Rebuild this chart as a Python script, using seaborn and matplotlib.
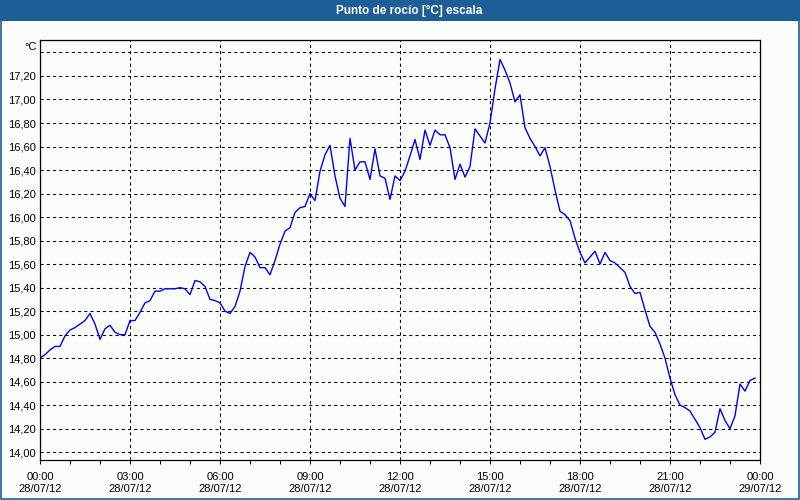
import numpy as np
import pandas as pd
import matplotlib
matplotlib.use("Agg")
import matplotlib.pyplot as plt
import matplotlib.dates as mdates
from matplotlib.patches import Rectangle
from matplotlib.ticker import FixedLocator, FixedFormatter
import seaborn as sns

# ---------------- data ----------------
title = "Punto de rocío [°C] escala"
unit_label = "°C"
start_time = "2012-07-28 00:00"
end_time = "2012-07-29 00:00"
dew_point = [
    14.80, 14.83, 14.87, 14.90, 14.90, 14.99, 15.04, 15.06, 15.09, 15.12,
    15.18, 15.09, 14.96, 15.05, 15.08, 15.02, 15.00, 15.00, 15.12, 15.12,
    15.19, 15.27, 15.29, 15.37, 15.37, 15.39, 15.39, 15.39, 15.40, 15.39,
    15.34, 15.46, 15.45, 15.41, 15.30, 15.29, 15.27, 15.20, 15.18, 15.24,
    15.37, 15.58, 15.70, 15.66, 15.57, 15.57, 15.51, 15.63, 15.77, 15.88,
    15.91, 16.04, 16.08, 16.09, 16.20, 16.14, 16.39, 16.53, 16.61, 16.35,
    16.16, 16.09, 16.67, 16.40, 16.47, 16.47, 16.32, 16.58, 16.35, 16.33,
    16.15, 16.35, 16.31, 16.39, 16.52, 16.66, 16.49, 16.74, 16.61, 16.74,
    16.70, 16.70, 16.59, 16.32, 16.45, 16.34, 16.43, 16.75, 16.69, 16.63,
    16.80, 17.09, 17.34, 17.25, 17.14, 16.98, 17.04, 16.76, 16.67, 16.60,
    16.52, 16.59, 16.43, 16.23, 16.05, 16.02, 15.97, 15.82, 15.70, 15.61,
    15.66, 15.71, 15.60, 15.70, 15.63, 15.61, 15.57, 15.53, 15.41, 15.35,
    15.36, 15.21, 15.07, 15.02, 14.92, 14.80, 14.63, 14.49, 14.40, 14.38,
    14.35, 14.28, 14.21, 14.11, 14.13, 14.17, 14.37, 14.27, 14.20, 14.31,
    14.58, 14.52, 14.61, 14.63,
]
times = pd.date_range(start_time, periods=len(dew_point), freq="10min")
y_ticks = [14.0, 14.2, 14.4, 14.6, 14.8, 15.0, 15.2, 15.4, 15.6, 15.8,
           16.0, 16.2, 16.4, 16.6, 16.8, 17.0, 17.2, 17.4]
y_tick_labels = ["14,00", "14,20", "14,40", "14,60", "14,80", "15,00", "15,20",
                 "15,40", "15,60", "15,80", "16,00", "16,20", "16,40", "16,60",
                 "16,80", "17,00", "17,20", ""]

df = pd.DataFrame({"time": times, "value": dew_point})

# ---------------- style ----------------
BG = "#FAFDFA"
BAR = "#1E5E97"
plt.rcParams["font.family"] = ["Liberation Sans", "DejaVu Sans"]
plt.rcParams["font.size"] = 8

fig = plt.figure(figsize=(8, 5), dpi=100, facecolor=BG)
ax = fig.add_axes([40 / 800, 1 - 460 / 500, 720 / 800, 420 / 500])
ax.set_facecolor(BG)

sns.lineplot(data=df, x="time", y="value", ax=ax, color="#0000FF",
             linewidth=1.0, legend=False)

ax.set_xlim(pd.Timestamp(start_time), pd.Timestamp(end_time))
ax.set_ylim(13.934, 17.506)

ax.xaxis.set_major_locator(mdates.HourLocator(byhour=range(0, 24, 3)))
ax.xaxis.set_minor_locator(mdates.HourLocator())
ax.xaxis.set_major_formatter(mdates.DateFormatter("%H:%M\n%d/%m/%y"))
ax.yaxis.set_major_locator(FixedLocator(y_ticks))
ax.yaxis.set_major_formatter(FixedFormatter(y_tick_labels))

ax.tick_params(axis="x", which="both", direction="out", length=2.6,
               width=0.75, color="black", pad=6, labelsize=8)
ax.tick_params(axis="y", which="both", length=0, pad=3, labelsize=8)
ax.set_xlabel("")
ax.set_ylabel("")

ax.grid(True, which="major", color="black", linestyle=(0, (3, 3)),
        linewidth=0.75)
for s in ax.spines.values():
    s.set_color("black")
    s.set_linewidth(0.9)

ax.text(-0.005, 1.0 - 6.5 / 420, unit_label, transform=ax.transAxes,
        ha="right", va="center", fontsize=8)

# title bar and frame
fig.patches.append(Rectangle((0, 1 - 21 / 500), 1, 21 / 500,
                             transform=fig.transFigure, facecolor=BAR,
                             edgecolor="none", zorder=0))
fig.patches.append(Rectangle((0.6 / 800, 0.6 / 500), 798.8 / 800, 498.8 / 500,
                             transform=fig.transFigure, facecolor="none",
                             edgecolor=BAR, linewidth=1.2, zorder=1))
fig.text(409 / 800, 1 - 10.5 / 500, title, color="white", fontweight="bold",
         ha="center", va="center", fontsize=8.5)

fig.savefig("out.png", dpi=100, facecolor=BG)
